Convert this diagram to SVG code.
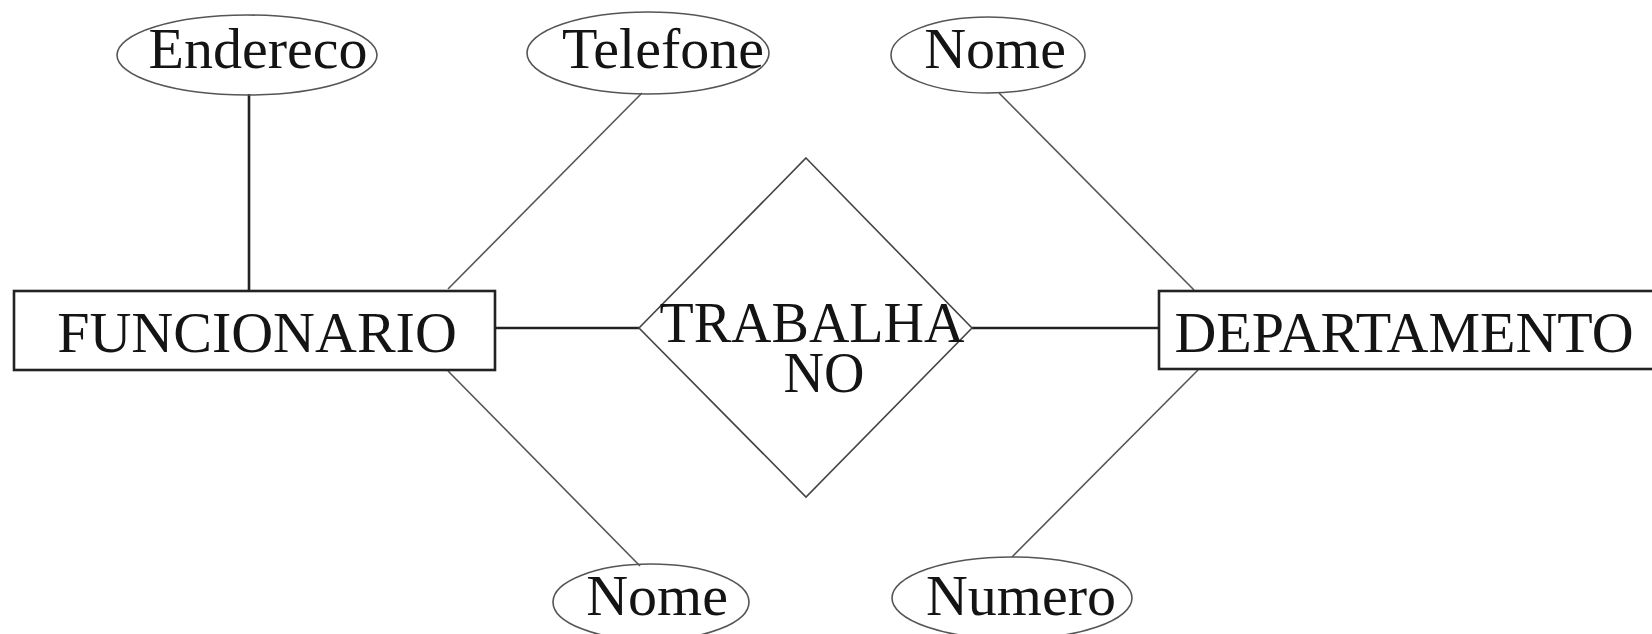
<svg xmlns="http://www.w3.org/2000/svg" width="1652" height="634" viewBox="0 0 1652 634">
  <style>
    .bg { fill: #ffffff; }
    .label { font-family: "Liberation Serif", "DejaVu Serif", serif; font-size: 58px; fill: #141414; text-anchor: middle; }
    .entity { fill: #ffffff; stroke: #222222; stroke-width: 2.6; }
    .relation { fill: none; stroke: #444444; stroke-width: 1.6; }
    .attr { fill: none; stroke: #555555; stroke-width: 1.6; }
    .link-strong { stroke: #222222; stroke-width: 2.6; fill: none; }
    .link-thin { stroke: #555555; stroke-width: 1.6; fill: none; }
  </style>
  <rect class="bg" x="0" y="0" width="1652" height="634"/>

  <!-- connectors -->
  <g id="connectors">
    <line class="link-strong" x1="249" y1="94" x2="249" y2="291"/>
    <line class="link-thin" x1="642" y1="93" x2="448" y2="289"/>
    <line class="link-thin" x1="448" y1="371" x2="640" y2="566"/>
    <line class="link-strong" x1="495" y1="328" x2="639" y2="328"/>
    <line class="link-strong" x1="972" y1="328" x2="1159" y2="328"/>
    <line class="link-thin" x1="999" y1="93" x2="1194" y2="290"/>
    <line class="link-thin" x1="1198" y1="370" x2="1012" y2="557"/>
  </g>

  <!-- entity: FUNCIONARIO -->
  <g id="funcionario">
    <rect class="entity" x="14" y="291" width="481" height="79"/>
    <text class="label" x="257" y="352">FUNCIONARIO</text>
  </g>

  <!-- entity: DEPARTAMENTO (runs off the right edge) -->
  <g id="departamento">
    <rect class="entity" x="1159" y="291" width="520" height="78"/>
    <text class="label" x="1404" y="352">DEPARTAMENTO</text>
  </g>

  <!-- relationship: TRABALHA NO -->
  <g id="trabalha-no">
    <polygon class="relation" points="806,158 972,328 806,497 639,328"/>
    <text class="label" style="font-size:56px"><tspan x="812" y="342">TRABALHA</tspan><tspan x="824" y="392">NO</tspan></text>
  </g>

  <!-- attributes -->
  <g id="attr-endereco">
    <ellipse class="attr" cx="247" cy="55" rx="130" ry="40"/>
    <text class="label" x="258" y="68">Endereco</text>
  </g>
  <g id="attr-telefone">
    <ellipse class="attr" cx="648" cy="53" rx="121" ry="41"/>
    <text class="label" x="663" y="68">Telefone</text>
  </g>
  <g id="attr-nome-departamento">
    <ellipse class="attr" cx="988" cy="55" rx="97" ry="38"/>
    <text class="label" x="995" y="68">Nome</text>
  </g>
  <g id="attr-nome-funcionario">
    <ellipse class="attr" cx="651" cy="602" rx="98" ry="38"/>
    <text class="label" x="657" y="615">Nome</text>
  </g>
  <g id="attr-numero">
    <ellipse class="attr" cx="1012" cy="598" rx="120" ry="41"/>
    <text class="label" x="1021" y="615">Numero</text>
  </g>
</svg>
